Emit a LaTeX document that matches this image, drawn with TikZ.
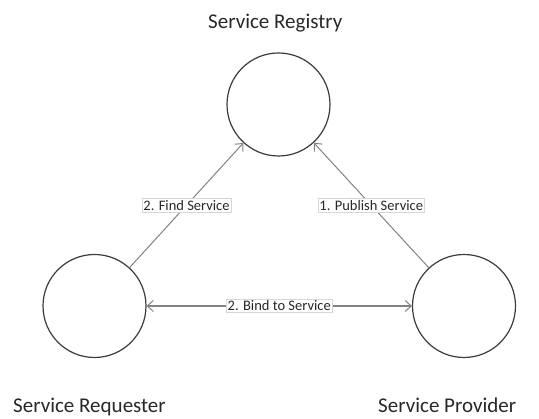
\documentclass[tikz,border=0pt]{standalone}
\usepackage{fontspec}
\setmainfont{Carlito}
\usetikzlibrary{arrows.meta}
\definecolor{circ}{RGB}{60,60,60}
\definecolor{conn}{RGB}{130,130,130}
\definecolor{lbox}{RGB}{215,215,215}
\definecolor{txt}{RGB}{40,40,40}
\tikzset{
  svc/.style={circle, draw=circ, line width=1.2pt, minimum size=103pt, inner sep=0pt},
  title/.style={anchor=base west, inner sep=0pt, text=txt, font=\fontsize{21pt}{24pt}\selectfont},
  conline/.style={draw=conn, line width=1pt, -{Straight Barb[length=6pt,width=11pt]}},
  bindline/.style={draw=conn, line width=2pt, {Straight Barb[length=6pt,width=11pt,line width=1pt]}-{Straight Barb[length=6pt,width=11pt,line width=1pt]}},
  lbl/.style={fill=white, draw=lbox, line width=0.6pt, inner xsep=1.5pt, inner ysep=1.5pt, text=txt, font=\fontsize{14.5pt}{16pt}\selectfont}
}
\begin{document}
\begin{tikzpicture}[x=1pt,y=-1pt]
\useasboundingbox (0,0) rectangle (539,419);
\node[svc] (reg) at (278.5,104.5) {};
\node[svc] (req) at (94.5,306) {};
\node[svc] (prov) at (464,306) {};
\node[title] (treg) at (208,29) {Service Registry};
\node[title] (treq) at (13,413) {Service Requester};
\node[title] (tprov) at (378,413) {Service Provider};
\draw[conline] (req) -- node[lbl] (lfind) {2. Find Service} (reg);
\draw[conline] (prov) -- node[lbl] (lpub) {1. Publish Service} (reg);
\draw[bindline] (req) -- node[lbl] (lbind) {2. Bind to Service} (prov);
\end{tikzpicture}
\end{document}
